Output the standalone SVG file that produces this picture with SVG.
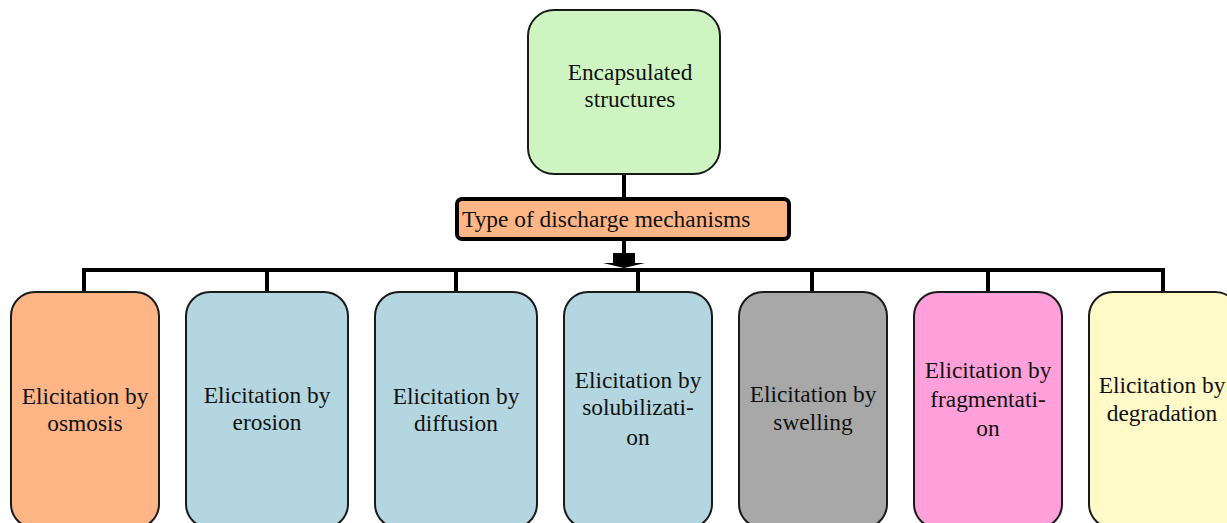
<svg xmlns="http://www.w3.org/2000/svg" width="1227" height="523" viewBox="0 0 1227 523">
<style>
.box{stroke:#1a1a1a;stroke-width:2}
.t{font-family:"Liberation Serif","Times New Roman",serif;font-size:23.4px;fill:#111;text-anchor:middle}
.c{stroke:#000;stroke-width:4;fill:none}
</style>
<rect width="1227" height="523" fill="#fff"/>
<g id="connectors">
<line class="c" x1="624" y1="174" x2="624" y2="199"/>
<line class="c" x1="624" y1="238" x2="624" y2="258"/>
<path d="M613,253 H635 V263 H645 L624,268 L603,263 H613 Z" fill="#000"/>
<polyline class="c" points="84,292 84,270 1163,270 1163,292"/>
<line class="c" x1="267" y1="270" x2="267" y2="292"/>
<line class="c" x1="456" y1="270" x2="456" y2="292"/>
<line class="c" x1="638" y1="270" x2="638" y2="292"/>
<line class="c" x1="812" y1="270" x2="812" y2="292"/>
<line class="c" x1="988" y1="270" x2="988" y2="292"/>
</g>
<g id="n-root">
<rect class="box" x="528" y="10" width="192" height="164" rx="26" fill="#cef5c1"/>
<text class="t" x="630" y="80">Encapsulated</text>
<text class="t" x="630" y="107">structures</text>
</g>
<g id="n-type">
<rect x="457" y="199" width="332" height="40" rx="5" fill="#ffb585" stroke="#000" stroke-width="4"/>
<text class="t" x="462" y="227" style="text-anchor:start">Type of discharge mechanisms</text>
</g>
<g id="n-osmosis">
<rect class="box" x="11" y="292" width="148" height="236" rx="24" fill="#ffb585"/>
<text class="t" x="85" y="404">Elicitation by</text>
<text class="t" x="85" y="431">osmosis</text>
</g>
<g id="n-erosion">
<rect class="box" x="186" y="292" width="162" height="236" rx="24" fill="#b3d6e0"/>
<text class="t" x="267" y="403">Elicitation by</text>
<text class="t" x="267" y="430">erosion</text>
</g>
<g id="n-diffusion">
<rect class="box" x="375" y="292" width="162" height="236" rx="24" fill="#b3d6e0"/>
<text class="t" x="456" y="404">Elicitation by</text>
<text class="t" x="456" y="431">diffusion</text>
</g>
<g id="n-solubilization">
<rect class="box" x="564" y="292" width="148" height="236" rx="24" fill="#b3d6e0"/>
<text class="t" x="638" y="388">Elicitation by</text>
<text class="t" x="638" y="415">solubilizati-</text>
<text class="t" x="638" y="445">on</text>
</g>
<g id="n-swelling">
<rect class="box" x="739" y="292" width="148" height="236" rx="24" fill="#a8a8a8"/>
<text class="t" x="813" y="402">Elicitation by</text>
<text class="t" x="813" y="430">swelling</text>
</g>
<g id="n-fragmentation">
<rect class="box" x="914" y="292" width="148" height="236" rx="24" fill="#ffa0da"/>
<text class="t" x="988" y="378">Elicitation by</text>
<text class="t" x="988" y="407">fragmentati-</text>
<text class="t" x="988" y="436">on</text>
</g>
<g id="n-degradation">
<rect class="box" x="1089" y="292" width="150" height="236" rx="24" fill="#fffac8"/>
<text class="t" x="1162" y="393">Elicitation by</text>
<text class="t" x="1162" y="421">degradation</text>
</g>
</svg>
